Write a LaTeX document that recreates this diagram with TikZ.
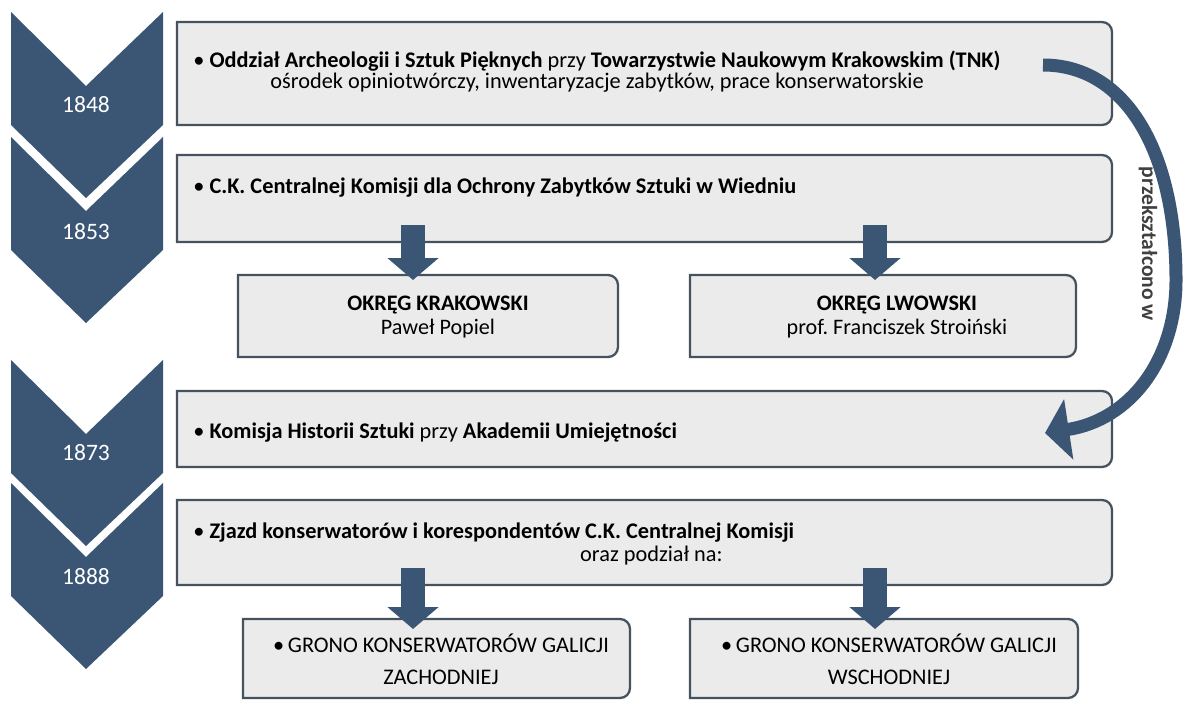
\documentclass[tikz,border=0pt]{standalone}
\usepackage{fontspec}
\setmainfont{Carlito}
\usetikzlibrary{arrows.meta}
\frenchspacing

\definecolor{chevblue}{HTML}{3B5675}
\definecolor{boxgray}{HTML}{EBEBEB}
\definecolor{boxedge}{HTML}{46535F}
\definecolor{lblgray}{HTML}{404040}

\tikzset{
  frame/.style={inner sep=0pt, outer sep=0pt, anchor=north west},
  boxline/.style={draw=boxedge, line width=1.3pt, fill=boxgray},
  txt/.style={inner sep=0pt, font=\fontsize{12.7pt}{10.8pt}\selectfont},
  subtxt/.style={inner sep=0pt, align=center, font=\fontsize{12.6pt}{14.2pt}\selectfont},
  grono/.style={inner sep=0pt, align=center, font=\fontsize{12.7pt}{18pt}\selectfont},
  yr/.style={text=white, font=\fontsize{13.4pt}{16pt}\selectfont},
  downarrow/.style={draw=chevblue, line width=0.48cm, -{Triangle[width=1.0cm, length=0.44cm]}},
  bendarrow/.style={draw=chevblue, line width=0.26cm, -{Triangle[width=1.2cm, length=0.48cm]}}
}

% box with the two right corners rounded
\newcommand\roundright[1]{%
  \draw[boxline] (#1.north west) -- ([xshift=-0.2cm]#1.north east)
    arc[start angle=90, end angle=0, radius=0.2cm] -- ([yshift=0.2cm]#1.south east)
    arc[start angle=0, end angle=-90, radius=0.2cm] -- (#1.south west) -- cycle;}

\begin{document}
\begin{tikzpicture}
\useasboundingbox[fill=white] (0,0) rectangle (23.68,-14.00);

% chevrons
\fill[chevblue] (0.22,-0.24) -- (1.72,-1.72) -- (3.26,-0.24) -- (3.26,-2.50) -- (1.72,-3.96) -- (0.22,-2.50) -- cycle;
\fill[chevblue] (0.22,-2.74) -- (1.72,-4.22) -- (3.26,-2.74) -- (3.26,-5.00) -- (1.72,-6.46) -- (0.22,-5.00) -- cycle;
\fill[chevblue] (0.22,-7.20) -- (1.72,-8.68) -- (3.26,-7.20) -- (3.26,-9.46) -- (1.72,-10.92) -- (0.22,-9.46) -- cycle;
\fill[chevblue] (0.22,-9.66) -- (1.72,-11.14) -- (3.26,-9.66) -- (3.26,-11.92) -- (1.72,-13.38) -- (0.22,-11.92) -- cycle;
\node[yr] (y1848) at (1.72,-2.10) {1848};
\node[yr] (y1853) at (1.72,-4.64) {1853};
\node[yr] (y1873) at (1.72,-9.06) {1873};
\node[yr] (y1888) at (1.72,-11.54) {1888};

% boxes
\node[frame, minimum width=18.70cm, minimum height=2.06cm] (b1) at (3.54,-0.44) {};
\node[frame, minimum width=18.70cm, minimum height=1.74cm] (b2) at (3.54,-3.10) {};
\node[frame, minimum width=7.60cm, minimum height=1.64cm] (krak) at (4.76,-5.50) {};
\node[frame, minimum width=7.72cm, minimum height=1.64cm] (lwow) at (13.80,-5.50) {};
\node[frame, minimum width=18.70cm, minimum height=1.52cm] (b3) at (3.54,-7.82) {};
\node[frame, minimum width=18.70cm, minimum height=1.70cm] (b4) at (3.54,-10.00) {};
\node[frame, minimum width=7.74cm, minimum height=1.58cm] (zach) at (4.86,-12.38) {};
\node[frame, minimum width=7.76cm, minimum height=1.58cm] (wsch) at (13.80,-12.38) {};
\roundright{b1}
\roundright{b2}
\roundright{krak}
\roundright{lwow}
\roundright{b3}
\roundright{b4}
\roundright{zach}
\roundright{wsch}

% texts
\node[txt, align=center] (t1) at (11.94,-1.43) {• \textbf{Oddział Archeologii i Sztuk Pięknych} przy \textbf{Towarzystwie Naukowym Krakowskim (TNK)}\\ośrodek opiniotwórczy, inwentaryzacje zabytków, prace konserwatorskie};
\node[txt, anchor=west] (t2) at (3.86,-3.76) {• \textbf{C.K. Centralnej Komisji dla Ochrony Zabytków Sztuki w Wiedniu}};
\node[subtxt] (t21) at (8.76,-6.34) {\textbf{OKRĘG KRAKOWSKI}\\Paweł Popiel};
\node[subtxt] (t22) at (17.94,-6.34) {\textbf{OKRĘG LWOWSKI}\\prof. Franciszek Stroiński};
\node[txt, anchor=west] (t3) at (3.86,-8.66) {• \textbf{Komisja Historii Sztuki} przy \textbf{Akademii Umiejętności}};
\node[txt, anchor=west] (t4) at (3.86,-10.66) {• \textbf{Zjazd konserwatorów i korespondentów C.K. Centralnej Komisji}};
\node[txt, anchor=east] (t4b) at (14.46,-11.12) {oraz podział na:};
\node[grono] (t41) at (8.82,-13.19) {•\,GRONO KONSERWATORÓW GALICJI\\ZACHODNIEJ};
\node[grono] (t42) at (17.78,-13.19) {•\,GRONO KONSERWATORÓW GALICJI\\WSCHODNIEJ};

% arrows
\draw[downarrow] ([xshift=-0.30cm,yshift=0.34cm]b2.south -| krak.north) -- ([xshift=-0.30cm,yshift=-0.10cm]krak.north);
\draw[downarrow] ([xshift=-0.16cm,yshift=0.34cm]b2.south -| lwow.north) -- ([xshift=-0.16cm,yshift=-0.10cm]lwow.north);
\draw[downarrow] ([xshift=-0.47cm,yshift=0.34cm]b4.south -| zach.north) -- ([xshift=-0.47cm,yshift=-0.20cm]zach.north);
\draw[downarrow] ([xshift=-0.18cm,yshift=0.34cm]b4.south -| wsch.north) -- ([xshift=-0.18cm,yshift=-0.20cm]wsch.north);

\coordinate (tnk) at (20.86,-1.30);
\coordinate (ua) at (20.90,-8.66);
\draw[bendarrow] (tnk) .. controls (22.50,-1.30) and (23.52,-3.00) .. (23.52,-5.60)
  .. controls (23.52,-7.20) and (22.60,-8.40) .. (ua);
\node[txt, text=lblgray, rotate=-90, font=\fontsize{12.3pt}{14pt}\selectfont\bfseries] (przek) at (22.96,-4.88) {przekształcono w};
\end{tikzpicture}
\end{document}
